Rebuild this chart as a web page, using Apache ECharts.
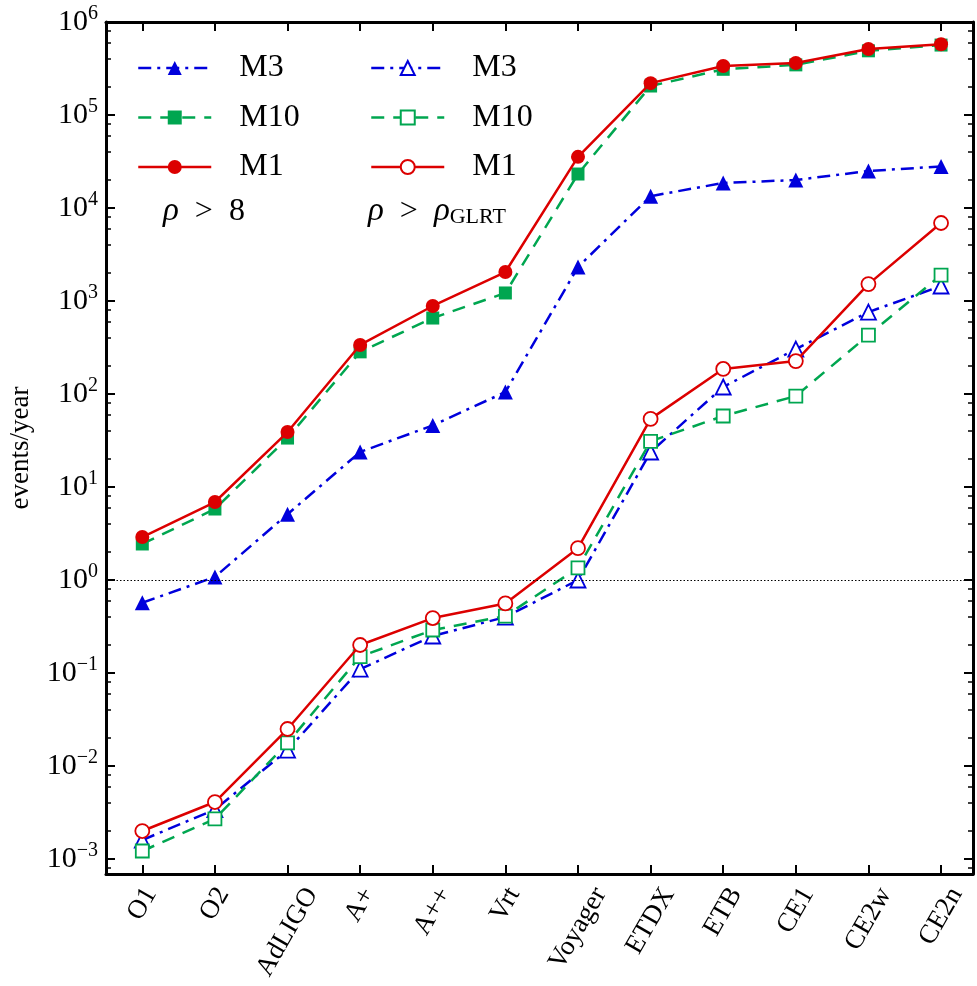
<!DOCTYPE html>
<html>
<head>
<meta charset="utf-8">
<script src="https://cdn.jsdelivr.net/npm/echarts@6/dist/echarts.min.js"></script>
<style>
  html, body { margin: 0; padding: 0; background: #fff; }
  #chart { width: 977px; height: 986px; }
</style>
</head>
<body>
<div id="chart"></div>
<script>
// Detector configurations along the horizontal axis
const categories = ['O1', 'O2', 'AdLIGO', 'A+', 'A++', 'Vrt', 'Voyager', 'ETDX', 'ETB', 'CE1', 'CE2w', 'CE2n'];

// Detection rates (events/year) for SNR threshold rho > 8
const snr8_M3  = [0.57, 1.08, 5.1, 23.8, 46, 105, 2320, 13400, 18600, 20000, 25000, 28000];
const snr8_M10 = [2.44, 5.8, 33.6, 284, 656, 1220, 23200, 205000, 310000, 346000, 490000, 565000];
const snr8_M1  = [2.9, 6.9, 39, 337, 884, 2050, 35500, 220000, 337000, 363000, 513000, 577000];

// Detection rates (events/year) for threshold rho > rho_GLRT
const glrt_M3  = [0.0016, 0.0034, 0.0148, 0.11, 0.25, 0.40, 1.0, 23.8, 119, 304, 760, 1450];
const glrt_M10 = [0.00122, 0.0027, 0.0177, 0.15, 0.29, 0.41, 1.35, 31, 58, 95, 430, 1900];
const glrt_M1  = [0.0020, 0.0041, 0.025, 0.20, 0.39, 0.56, 2.2, 54, 186, 226, 1520, 6900];

// Axis tick labels / positions
const yMajorTicks = [1e-3, 1e-2, 1e-1, 1e0, 1e1, 1e2, 1e3, 1e4, 1e5, 1e6];
const yMinorMultipliers = [2, 4, 6, 8];
const xTickPositions = categories.map((_, i) => i);

const yMin = Math.pow(10, -3.161);
const yMax = 1e6;

const FONT = '"Liberation Serif", "Times New Roman", serif';
const RED = '#dc0000';
const GREEN = '#00a650';
const BLUE = '#0000dc';

const yMinorTicks = [];
for (let k = -4; k <= 5; k++) {
  yMinorMultipliers.forEach(m => {
    const v = m * Math.pow(10, k);
    if (v > yMin && v < yMax) yMinorTicks.push(v);
  });
}

function powLabel(value) {
  const e = Math.round(Math.log10(value));
  const s = e < 0 ? '\u2212' + (-e) : String(e);
  return '{b|10}{s|' + s + '}';
}

function yAxisDef(position, minor, withLabels) {
  return {
    type: 'log',
    logBase: 10,
    min: yMin,
    max: yMax,
    position: position,
    axisLine: { show: !minor, onZero: false, lineStyle: { color: '#000', width: 3 } },
    axisTick: {
      show: true,
      inside: true,
      length: minor ? 5 : 9,
      lineStyle: { color: '#000', width: minor ? 1.5 : 2 },
      customValues: minor ? yMinorTicks : yMajorTicks
    },
    axisLabel: withLabels ? {
      show: true,
      customValues: yMajorTicks,
      margin: 8,
      formatter: powLabel,
      rich: {
        b: { fontFamily: FONT, fontSize: 30, lineHeight: 30, color: '#000', verticalAlign: 'bottom' },
        s: { fontFamily: FONT, fontSize: 20, lineHeight: 20, color: '#000', verticalAlign: 'bottom', padding: [0, 0, 13, 0] }
      }
    } : { show: false },
    splitLine: { show: false },
    minorTick: { show: false },
    name: withLabels ? 'events/year' : '',
    nameLocation: 'middle',
    nameRotate: 90,
    nameGap: 72,
    nameTextStyle: { fontFamily: FONT, fontSize: 27, color: '#000' }
  };
}

function xAxisDef(position) {
  return {
    type: 'value',
    min: -0.5,
    max: 11.44,
    position: position,
    axisLine: { show: true, onZero: false, lineStyle: { color: '#000', width: 3 } },
    axisTick: {
      show: true,
      inside: true,
      length: 9,
      lineStyle: { color: '#000', width: 2 },
      customValues: xTickPositions
    },
    axisLabel: { show: false },
    splitLine: { show: false }
  };
}

function lineSeries(name, values, color, dash, symbol, size, filled, z) {
  return {
    type: 'line',
    name: name,
    xAxisIndex: 0,
    yAxisIndex: 0,
    data: values.map((v, i) => [i, v]),
    symbol: symbol,
    symbolSize: size,
    showSymbol: true,
    z: z,
    lineStyle: { color: color, width: 2.5, type: dash, cap: 'butt' },
    itemStyle: filled
      ? { color: color, borderColor: color, borderWidth: 0 }
      : { color: '#ffffff', borderColor: color, borderWidth: 1.8 },
    emphasis: { disabled: true }
  };
}

const DASH_M3 = [13, 6, 3, 6];
const DASH_M10 = [13, 9];

const series = [
  lineSeries('M3 snr8', snr8_M3, BLUE, DASH_M3, 'triangle', 15, true, 2),
  lineSeries('M10 snr8', snr8_M10, GREEN, DASH_M10, 'rect', 13, true, 3),
  lineSeries('M1 snr8', snr8_M1, RED, 'solid', 'circle', 14, true, 4),
  lineSeries('M3 glrt', glrt_M3, BLUE, DASH_M3, 'triangle', 15, false, 2),
  lineSeries('M10 glrt', glrt_M10, GREEN, DASH_M10, 'rect', 13, false, 3),
  lineSeries('M1 glrt', glrt_M1, RED, 'solid', 'circle', 14, false, 4)
];

// Reference line at one event per year
series[0].markLine = {
  silent: true,
  symbol: 'none',
  label: { show: false },
  animation: false,
  lineStyle: { color: '#000', width: 1, type: [1.5, 2] },
  data: [{ yAxis: 1 }]
};

function legendDef(left, names) {
  return {
    orient: 'vertical',
    left: left,
    top: 51,
    padding: 0,
    itemWidth: 73,
    itemHeight: 17.5,
    itemGap: 15.5,
    selectedMode: false,
    data: names,
    formatter: n => n.split(' ')[0],
    lineStyle: { width: 2.5 },
    textStyle: { fontFamily: FONT, fontSize: 32, lineHeight: 34, color: '#000', padding: [0, 0, 0, 23] }
  };
}

const chart = echarts.init(document.getElementById('chart'), null, { renderer: 'canvas' });

chart.setOption({
  animation: false,
  backgroundColor: '#fff',
  grid: { left: 106, right: 4, top: 22, bottom: 112, containLabel: false, outerBoundsMode: 'none' },
  xAxis: [xAxisDef('bottom'), xAxisDef('top')],
  yAxis: [
    yAxisDef('left', false, true),
    yAxisDef('left', true, false),
    yAxisDef('right', false, false),
    yAxisDef('right', true, false)
  ],
  legend: [
    legendDef(137, ['M3 snr8', 'M10 snr8', 'M1 snr8']),
    legendDef(370, ['M3 glrt', 'M10 glrt', 'M1 glrt'])
  ],
  series: series
});

// Rotated category labels, centred under each tick
const ctx = document.createElement('canvas').getContext('2d');
const labelSize = 27;
ctx.font = labelSize + 'px ' + FONT;
const angle = Math.PI / 3;
const axisBottom = chart.convertToPixel({ yAxisIndex: 0 }, yMin);

const graphics = categories.map((c, i) => {
  const x = chart.convertToPixel({ xAxisIndex: 0 }, i);
  const w = ctx.measureText(c).width;
  const boxH = w * Math.sin(angle) + labelSize * 0.7 * Math.cos(angle);
  return {
    type: 'text',
    x: x,
    y: axisBottom + 11 + boxH / 2,
    rotation: angle,
    silent: true,
    style: {
      text: c,
      font: labelSize + 'px ' + FONT,
      fill: '#000',
      align: 'center',
      verticalAlign: 'middle'
    }
  };
});

const mathRich = {
  i: { fontFamily: FONT, fontStyle: 'italic', fontSize: 33, lineHeight: 36, verticalAlign: 'bottom', color: '#000' },
  t: { fontFamily: FONT, fontSize: 32, lineHeight: 36, verticalAlign: 'bottom', color: '#000' },
  sub: { fontFamily: FONT, fontSize: 22, lineHeight: 22, verticalAlign: 'bottom', color: '#000' }
};

graphics.push({
  type: 'text', x: 163, y: 210, silent: true,
  style: { text: '{i|ρ}{t|  >  8}', rich: mathRich, verticalAlign: 'middle' }
});
graphics.push({
  type: 'text', x: 368, y: 210, silent: true,
  style: { text: '{i|ρ}{t|  >  }{i|ρ}{sub|GLRT}', rich: mathRich, verticalAlign: 'middle' }
});

chart.setOption({ graphic: graphics });
</script>
</body>
</html>
